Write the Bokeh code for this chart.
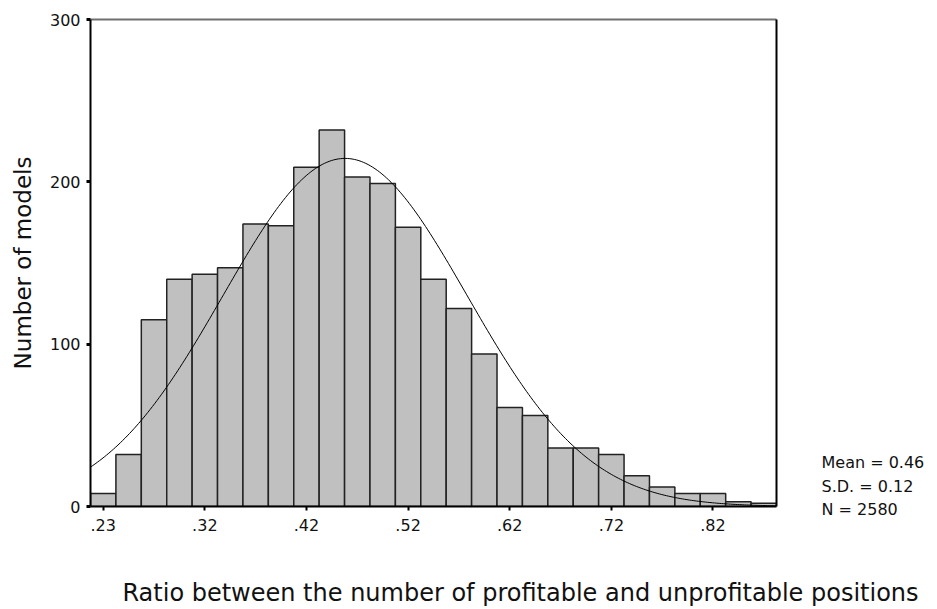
import numpy as np
from bokeh.plotting import figure
from bokeh.layouts import row, column
from bokeh.models import Range1d, FixedTicker, LinearAxis, ColumnDataSource
from bokeh.core.properties import value
from bokeh.embed import file_html
from bokeh.resources import INLINE

# ---- data ----
BIN_START = 0.2125
BIN_WIDTH = 0.025
COUNTS = [8, 32, 115, 140, 143, 147, 174, 173, 209, 232, 203, 199, 172, 140,
          122, 94, 61, 56, 36, 36, 32, 19, 12, 8, 8, 3, 2]
TICK_LABELS = [".23", ".32", ".42", ".52", ".62", ".72", ".82"]
Y_TICKS = [0, 100, 200, 300]
MEAN = 0.46
SD = 0.12
N = 2580
CURVE_MEAN = 0.463  # estimated peak position of fitted normal curve
STATS = ["Mean = 0.46", "S.D. = 0.12", "N = 2580"]
X_TITLE = "Ratio between the number of profitable and unprofitable positions"
Y_TITLE = "Number of models"

FONT = "DejaVu Sans"
TXT = "#111111"

centers = [BIN_START + BIN_WIDTH * (i + 0.5) for i in range(len(COUNTS))]
tick_pos = centers[::4]

MAIN_W, MAIN_H = 780, 550
FRAME_TOP, FRAME_BOTTOM = 19, 506

p = figure(width=MAIN_W, height=MAIN_H, output_backend="svg", toolbar_location=None,
           x_range=Range1d(BIN_START, BIN_START + BIN_WIDTH * len(COUNTS)),
           y_range=Range1d(0, 300),
           min_border_left=90, min_border_right=4, min_border_top=FRAME_TOP,
           min_border_bottom=MAIN_H - FRAME_BOTTOM)
p.frame_align = False
p.outline_line_color = None
p.grid.visible = False
p.background_fill_color = "white"
p.border_fill_color = "white"

src = ColumnDataSource(dict(x=centers, top=COUNTS))
p.vbar(x="x", top="top", width=BIN_WIDTH, bottom=0, source=src,
       fill_color="#c0c0c0", line_color="#222222", line_width=1.5)

# fitted normal curve
xs = np.linspace(BIN_START, BIN_START + BIN_WIDTH * len(COUNTS), 300)
ys = N * BIN_WIDTH / (SD * np.sqrt(2 * np.pi)) * np.exp(-0.5 * ((xs - CURVE_MEAN) / SD) ** 2)
p.line(xs, ys, line_color="black", line_width=1)

# axes
xa = p.xaxis[0]
xa.ticker = FixedTicker(ticks=tick_pos)
xa.major_label_overrides = {t: l for t, l in zip(tick_pos, TICK_LABELS)}
xa.minor_tick_line_color = None
xa.major_tick_in = 0
xa.major_tick_out = 4
xa.major_tick_line_width = 2
xa.axis_line_width = 2
xa.axis_line_color = "black"
xa.major_label_text_font = FONT
xa.major_label_text_font_size = "16px"
xa.major_label_text_color = TXT
xa.major_label_standoff = 8

ya = p.yaxis[0]
ya.ticker = FixedTicker(ticks=Y_TICKS)
ya.minor_tick_line_color = None
ya.major_tick_in = 0
ya.major_tick_out = 4
ya.major_tick_line_width = 3
ya.axis_line_width = 2
ya.axis_line_color = "black"
ya.major_label_text_font = FONT
ya.major_label_text_font_size = "16px"
ya.major_label_text_color = TXT
ya.major_label_standoff = 6
ya.axis_label = Y_TITLE
ya.axis_label_text_font = FONT
ya.axis_label_text_font_size = "23px"
ya.axis_label_text_font_style = "normal"
ya.axis_label_text_color = TXT
ya.axis_label_standoff = 11

top_ax = LinearAxis(ticker=FixedTicker(ticks=[]), major_tick_line_color=None,
                    minor_tick_line_color=None, axis_line_color="#707070",
                    axis_line_width=2)
right_ax = LinearAxis(ticker=FixedTicker(ticks=[]), major_tick_line_color=None,
                      minor_tick_line_color=None, axis_line_color="black",
                      axis_line_width=2)
p.add_layout(top_ax, "above")
p.add_layout(right_ax, "right")


def blank(w, h):
    f = figure(width=w, height=h, output_backend="svg", toolbar_location=None,
               x_range=Range1d(0, w), y_range=Range1d(h, 0),
               min_border=0, min_border_left=0, min_border_right=0,
               min_border_top=0, min_border_bottom=0)
    f.frame_align = False
    f.axis.visible = False
    f.grid.visible = False
    f.outline_line_color = None
    f.background_fill_color = "white"
    f.border_fill_color = "white"
    return f


# stats panel to the right of the plot (coordinates are page pixels of the panel)
side = blank(937 - MAIN_W, MAIN_H)
side.text(x=[41] * len(STATS), y=[462 + 23.5 * i for i in range(len(STATS))], text=STATS,
          text_font=value(FONT), text_font_size="16px", text_color=TXT,
          text_baseline="middle", text_align="left")

# x-axis title panel below
bottom = blank(937, 609 - MAIN_H)
bottom.text(x=[520], y=[42], text=[X_TITLE], text_font=value(FONT),
            text_font_size="24px", text_color=TXT,
            text_baseline="middle", text_align="center")

layout = column(row(p, side), bottom)
open("out.html", "w").write(file_html(layout, INLINE))
